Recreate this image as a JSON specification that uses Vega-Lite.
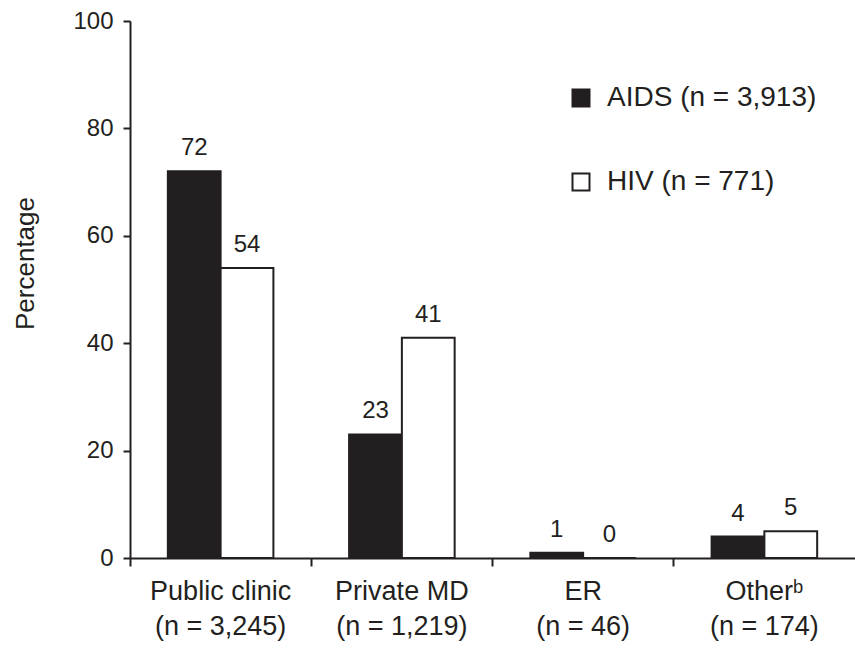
{
  "$schema": "https://vega.github.io/schema/vega-lite/v6.json",
  "autosize": "none",
  "width": 725,
  "height": 537,
  "padding": {"left": 130, "top": 21, "right": 0, "bottom": 92},
  "background": "white",
  "config": {
    "font": "Liberation Sans",
    "view": {"stroke": null}
  },
  "data": {
    "values": [
      {"category": "Public clinic", "group": "AIDS (n = 3,913)", "value": 72},
      {"category": "Public clinic", "group": "HIV (n = 771)", "value": 54},
      {"category": "Private MD", "group": "AIDS (n = 3,913)", "value": 23},
      {"category": "Private MD", "group": "HIV (n = 771)", "value": 41},
      {"category": "ER", "group": "AIDS (n = 3,913)", "value": 1},
      {"category": "ER", "group": "HIV (n = 771)", "value": 0},
      {"category": "Other", "group": "AIDS (n = 3,913)", "value": 4},
      {"category": "Other", "group": "HIV (n = 771)", "value": 5}
    ]
  },
  "encoding": {
    "x": {
      "field": "category",
      "type": "nominal",
      "sort": ["Public clinic", "Private MD", "ER", "Other"],
      "scale": {"paddingInner": 0, "paddingOuter": 0},
      "axis": {
        "title": null,
        "labelAngle": 0,
        "bandPosition": 0,
        "domainColor": "#231f20",
        "domainWidth": 2,
        "tickColor": "#231f20",
        "tickWidth": 2,
        "tickSize": 8,
        "labelFontSize": 27,
        "labelColor": "#231f20",
        "labelPadding": 12,
        "labelLineHeight": 35,
        "labelLimit": 0,
        "labelExpr": "datum.value == 'Public clinic' ? ['Public clinic', '(n = 3,245)'] : datum.value == 'Private MD' ? ['Private MD', '(n = 1,219)'] : datum.value == 'ER' ? ['ER', '(n = 46)'] : ['Otherᵇ', '(n = 174)']"
      }
    },
    "xOffset": {
      "field": "group",
      "type": "nominal",
      "scale": {"paddingOuter": 0.717, "paddingInner": 0}
    },
    "y": {
      "field": "value",
      "type": "quantitative",
      "scale": {"domain": [0, 100], "nice": false},
      "axis": {
        "title": "Percentage",
        "titleFontSize": 26,
        "titleFontWeight": "normal",
        "titleColor": "#231f20",
        "titleX": -97,
        "titleY": 242,
        "titleBaseline": "alphabetic",
        "titleAngle": -90,
        "values": [0, 20, 40, 60, 80, 100],
        "grid": false,
        "domainColor": "#231f20",
        "domainWidth": 2,
        "tickColor": "#231f20",
        "tickWidth": 2,
        "tickSize": 7,
        "labelFontSize": 24,
        "labelColor": "#231f20",
        "labelPadding": 10
      }
    }
  },
  "layer": [
    {
      "mark": {"type": "bar", "stroke": "#231f20", "strokeWidth": 2},
      "encoding": {
        "fill": {
          "field": "group",
          "type": "nominal",
          "scale": {"domain": ["AIDS (n = 3,913)", "HIV (n = 771)"], "range": ["#231f20", "#ffffff"]},
          "legend": {
            "title": null,
            "orient": "none",
            "legendX": 437,
            "legendY": 63,
            "symbolType": "square",
            "symbolSize": 289,
            "symbolStrokeColor": "#231f20",
            "symbolStrokeWidth": 2,
            "labelFontSize": 28,
            "labelColor": "#231f20",
            "labelOffset": 12,
            "labelLimit": 0,
            "rowPadding": 56
          }
        }
      }
    },
    {
      "mark": {"type": "text", "dy": -16, "baseline": "alphabetic", "fontSize": 24, "color": "#231f20"},
      "encoding": {
        "text": {"field": "value", "type": "quantitative"}
      }
    }
  ]
}
